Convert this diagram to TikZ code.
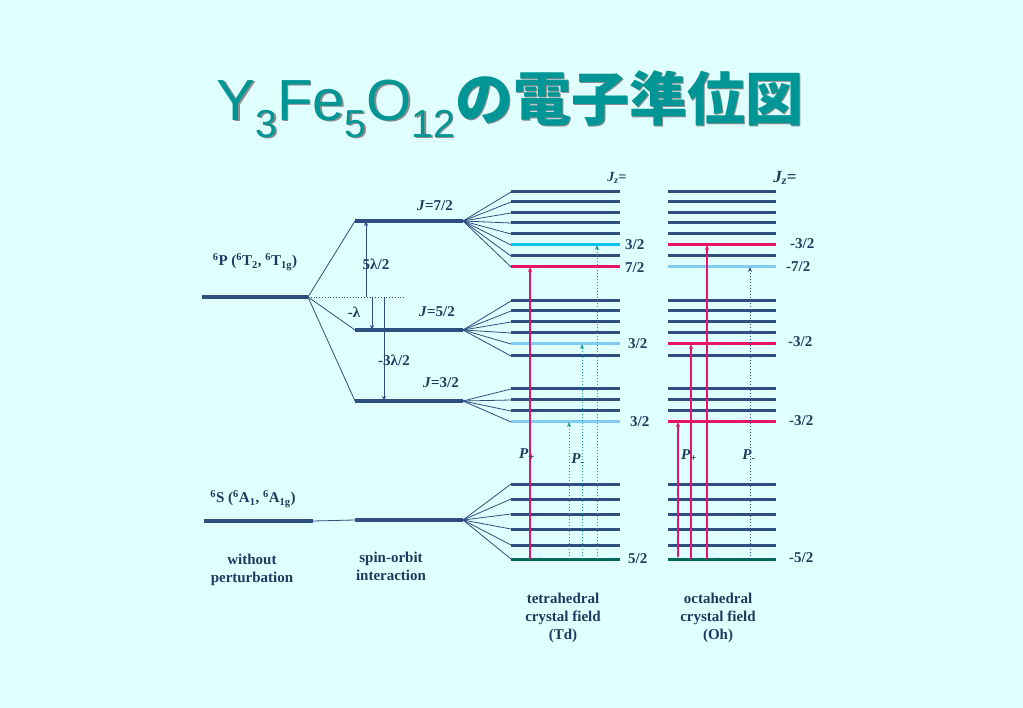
\documentclass[tikz,border=0pt]{standalone}
\usepackage{fontspec}
\usepackage{tikz}
\usetikzlibrary{calc,arrows.meta}
\setmainfont{Liberation Serif}
\newfontfamily\headfont{Liberation Sans}
\newfontfamily\jpfont{Noto Sans CJK JP}
\definecolor{bg}{HTML}{E0FFFF}
\definecolor{lvl}{HTML}{2D4E7E}
\definecolor{ink}{HTML}{1F3A5F}
\definecolor{hot}{HTML}{E8146C}
\definecolor{sky}{HTML}{10C0EE}
\definecolor{pale}{HTML}{80CCF2}
\definecolor{gnd}{HTML}{00695C}
\definecolor{titl}{HTML}{009696}
\definecolor{tdot}{HTML}{1A9C9C}
\newcommand{\sub}[1]{\raisebox{-0.3em}{\fontsize{39}{39}\selectfont #1}}
\tikzset{
  lev/.style={line width=3pt},
  fan/.style={draw=lvl,line width=0.8pt},
  lab/.style={font=\fontsize{15}{18}\selectfont\bfseries,text=ink,inner sep=1pt,align=center},
  pplus/.style={-{Stealth[length=5pt,width=4pt]},draw=hot,line width=1.2pt},
  pminus/.style={-{Stealth[length=5pt,width=4pt]},draw=tdot,dotted,line width=1pt},
  gap/.style={-{Stealth[length=5pt,width=4pt]},draw=lvl,line width=0.9pt},
}

\begin{document}
\begin{tikzpicture}[x=1pt,y=-1pt]
\fill[bg] (0,0) rectangle (1023,708);
% title
\node[text=black!45,font=\fontsize{58}{64}\selectfont] at (511.5,105.5)
  {\headfont Y\sub{3}Fe\sub{5}O\sub{12}\jpfont\bfseries の電子準位図};
\node[text=titl,font=\fontsize{58}{64}\selectfont] (title) at (510,104)
  {\headfont Y\sub{3}Fe\sub{5}O\sub{12}\jpfont\bfseries の電子準位図};
% free ion and spin-orbit levels
\coordinate (p0) at (202,297); \coordinate (p1) at (308,297);
\coordinate (s0) at (204,521); \coordinate (s1) at (313,521);
\coordinate (j7l) at (355,221); \coordinate (j7) at (463,221);
\coordinate (j5l) at (355,330); \coordinate (j5) at (463,330);
\coordinate (j3l) at (355,401); \coordinate (j3) at (463,401);
\coordinate (sol) at (355,520); \coordinate (so) at (463,520);
\coordinate (dotend) at (405,297);
\draw[lev,draw=lvl,line width=3.3pt] (p0) -- (p1);
\draw[lev,draw=lvl,line width=3.3pt] (s0) -- (s1);
\draw[lev,draw=lvl,line width=3.3pt] (j7l) -- (j7); \draw[lev,draw=lvl,line width=3.3pt] (j5l) -- (j5);
\draw[lev,draw=lvl,line width=3.3pt] (j3l) -- (j3); \draw[lev,draw=lvl,line width=3.3pt] (sol) -- (so);
\draw[fan] (p1) -- (j7l); \draw[fan] (p1) -- (j5l); \draw[fan] (p1) -- (j3l);
\draw[fan] (s1) -- (sol);
\draw[draw=lvl,dotted,line width=0.8pt] (p1) -- (dotend);
% splitting arrows
\coordinate (a1) at (366,297); \coordinate (a2) at (372,297); \coordinate (a3) at (384,297);
\draw[gap] (a1) -- (a1 |- j7l);
\draw[gap] (a2) -- (a2 |- j5l);
\draw[gap] (a3) -- (a3 |- j3l);
% tetrahedral levels
\foreach \y/\c [count=\i] in {192/lvl,202/lvl,213/lvl,223/lvl,234/lvl,245/sky,256/lvl,267/hot,
  301/lvl,311/lvl,322/lvl,333/lvl,344/pale,356/lvl,389/lvl,400/lvl,411/lvl,422/pale,
  484/lvl,499/lvl,514/lvl,529/lvl,545/lvl,559/gnd}{
  \coordinate (td\i) at (511,\y);
  \draw[lev,draw=\c] (td\i) -- ++(109,0);
}
% octahedral levels
\foreach \y/\c [count=\i] in {192/lvl,202/lvl,213/lvl,223/lvl,234/lvl,245/hot,256/lvl,267/pale,
  301/lvl,311/lvl,322/lvl,333/lvl,344/hot,356/lvl,389/lvl,400/lvl,411/lvl,422/hot,
  484/lvl,499/lvl,514/lvl,529/lvl,545/lvl,559/gnd}{
  \coordinate (oh\i) at (668,\y);
  \draw[lev,draw=\c] (oh\i) -- ++(108,0);
}
\foreach \i in {1,...,8} \draw[fan] (j7) -- (td\i);
\foreach \i in {9,...,14} \draw[fan] (j5) -- (td\i);
\foreach \i in {15,...,18} \draw[fan] (j3) -- (td\i);
\foreach \i in {19,...,24} \draw[fan] (so) -- (td\i);
% transitions
\draw[pplus] ($(td24)+(19,0)$) -- ($(td8)+(19,0)$);
\draw[pminus] ($(td24)+(86,0)$) -- ($(td6)+(86,0)$);
\draw[pminus] ($(td24)+(71,0)$) -- ($(td13)+(71,0)$);
\draw[pminus] ($(td24)+(58,0)$) -- ($(td18)+(58,0)$);
\draw[pplus] ($(oh24)+(39,0)$) -- ($(oh6)+(39,0)$);
\draw[pplus] ($(oh24)+(23,0)$) -- ($(oh13)+(23,0)$);
\draw[pplus] ($(oh24)+(10,-2)$) -- ($(oh18)+(10,0)$);
\draw[pminus,draw=lvl] ($(oh24)+(82,0)$) -- ($(oh8)+(82,0)$);
% labels
\node[lab] (lp) at (255,262) {\textsuperscript{6}P (\textsuperscript{6}T\textsubscript{2}, \textsuperscript{6}T\textsubscript{1g})};
\node[lab] (ls) at (253,499) {\textsuperscript{6}S (\textsuperscript{6}A\textsubscript{1}, \textsuperscript{6}A\textsubscript{1g})};
\node[lab] (lj7) at (435,206) {\textit{J}=7/2};
\node[lab] (lj5) at (437,312) {\textit{J}=5/2};
\node[lab] (lj3) at (441,383) {\textit{J}=3/2};
\node[lab] (l52) at (376,264) {5λ/2};
\node[lab] (l1) at (354,312) {-λ};
\node[lab] (l32) at (394,360) {-3λ/2};
\node[lab] (lwo) at (252,570) {without\\perturbation};
\node[lab] (lso) at (391,566) {spin-orbit\\interaction};
\node[lab] (ltd) at (563,618) {tetrahedral\\crystal field\\(Td)};
\node[lab] (loh) at (718,618) {octahedral\\crystal field\\(Oh)};
\node[lab,font=\fontsize{14}{16}\selectfont\bfseries] (jzt) at (617,178) {\textit{J\textsubscript{z}}=};
\node[lab,font=\fontsize{17}{19}\selectfont\bfseries] (jzo) at (785,178) {\textit{J\textsubscript{z}}=};
\node[lab] (ppt) at (527,455) {\textit{P\textsubscript{+}}};
\node[lab] (pmt) at (578,460) {\textit{P\textsubscript{-}}};
\node[lab] (ppo) at (689,456) {\textit{P\textsubscript{+}}};
\node[lab] (pmo) at (749,456) {\textit{P\textsubscript{-}}};
\node[lab,anchor=west] (t1) at (624,245) {3/2};
\node[lab,anchor=west] (t2) at (624,268) {7/2};
\node[lab,anchor=west] (t3) at (627,344) {3/2};
\node[lab,anchor=west] (t4) at (629,422) {3/2};
\node[lab,anchor=west] (t5) at (627,559) {5/2};
\node[lab,anchor=west] (o1) at (789,244) {-3/2};
\node[lab,anchor=west] (o2) at (785,267) {-7/2};
\node[lab,anchor=west] (o3) at (787,342) {-3/2};
\node[lab,anchor=west] (o4) at (788,421) {-3/2};
\node[lab,anchor=west] (o5) at (788,558) {-5/2};
\end{tikzpicture}
\end{document}
